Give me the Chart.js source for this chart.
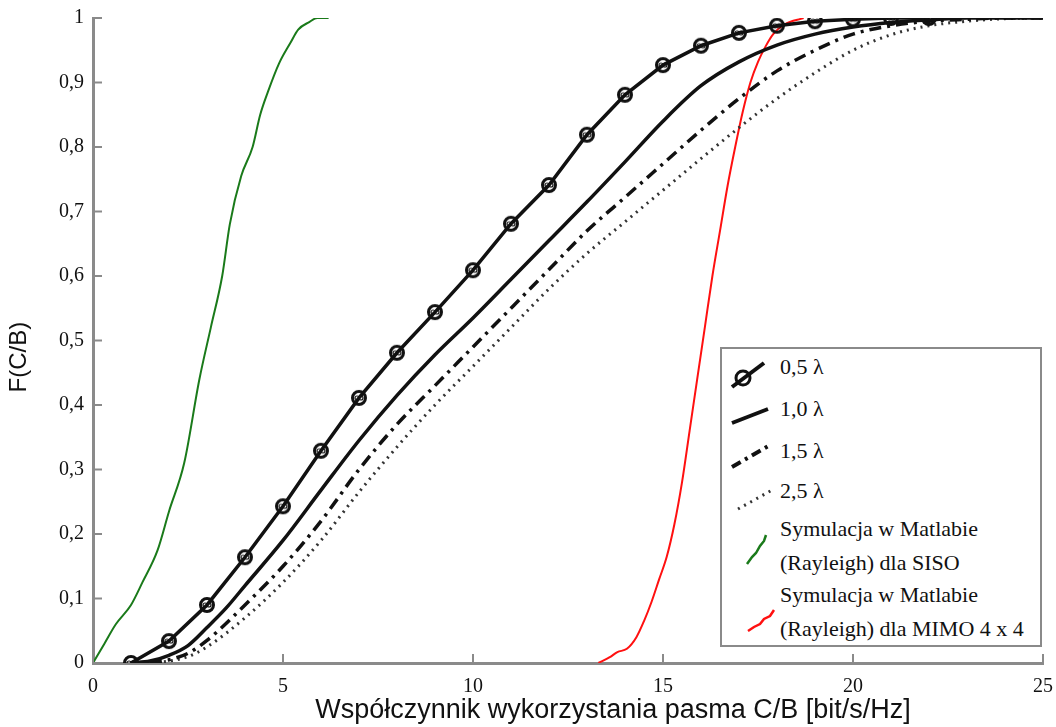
<!DOCTYPE html>
<html>
<head>
<meta charset="utf-8">
<script src="https://cdn.jsdelivr.net/npm/chart.js@4.4.0/dist/chart.umd.min.js"></script>
<style>
  html, body { margin: 0; padding: 0; background: #fff; }
  #wrap { position: relative; width: 1056px; height: 727px; }
  #legend {
    position: absolute; left: 720px; top: 347px; width: 318px; height: 296px;
    border: 2px solid #8a8a8a; background: #fff;
    font-family: "Liberation Serif", "Times New Roman", serif; font-size: 22px; color: #111;
  }
  #legend svg { position: absolute; left: 0; top: 0; }
  #legend .t { position: absolute; left: 58px; white-space: nowrap; line-height: 33px; }
</style>
</head>
<body>
<div id="wrap">
  <canvas id="cdf" width="1056" height="727"></canvas>
  <div id="legend">
    <svg width="318" height="296">
      <line x1="10" y1="38" x2="42" y2="14" stroke="#111" stroke-width="4"/>
      <circle cx="21" cy="29" r="7" fill="none" stroke="#111" stroke-width="3"/>
      <line x1="10" y1="74" x2="46" y2="60" stroke="#111" stroke-width="4"/>
      <line x1="10" y1="118" x2="48" y2="96" stroke="#111" stroke-width="4" stroke-dasharray="10,5,3,5"/>
      <line x1="16" y1="160" x2="52" y2="140" stroke="#333" stroke-width="3" stroke-dasharray="2,5"/>
      <path d="M25 215 L30 208 L34 204 L38 197 L42 192 L44 186" fill="none" stroke="#1a7a1a" stroke-width="2.5"/>
      <path d="M26 282 L32 278 L38 275 L42 270 L48 267 L52 261" fill="none" stroke="#ff1010" stroke-width="2.5"/>
    </svg>
    <div class="t" style="top:1px">0,5 λ</div>
    <div class="t" style="top:43px">1,0 λ</div>
    <div class="t" style="top:85px">1,5 λ</div>
    <div class="t" style="top:125px">2,5 λ</div>
    <div class="t" style="top:163px">Symulacja w Matlabie</div>
    <div class="t" style="top:197px">(Rayleigh) dla SISO</div>
    <div class="t" style="top:229px">Symulacja w Matlabie</div>
    <div class="t" style="top:263px">(Rayleigh) dla MIMO 4 x 4</div>
  </div>
</div>
<script>
// values
const x05 = [1, 2, 3, 4, 5, 6, 7, 8, 9, 10, 11, 12, 13, 14, 15, 16, 17, 18, 19, 20, 21, 22];
const y05 = [0, 0.034, 0.09, 0.164, 0.243, 0.329, 0.411, 0.481, 0.544, 0.609, 0.681, 0.741, 0.819, 0.881, 0.927, 0.957, 0.977, 0.988, 0.995, 0.998, 1, 1];

const x10 = [1, 1.5, 2, 2.5, 3, 3.5, 4, 5, 6, 7, 8, 9, 10, 11, 12, 13, 14, 15, 16, 17, 18, 19, 20, 21, 22, 23, 24, 25];
const y10 = [0, 0.003, 0.012, 0.027, 0.055, 0.085, 0.12, 0.19, 0.268, 0.345, 0.415, 0.478, 0.535, 0.595, 0.655, 0.715, 0.777, 0.84, 0.895, 0.932, 0.958, 0.975, 0.986, 0.993, 0.997, 1, 1, 1];

const x15 = [1.5, 2, 2.5, 3, 4, 5, 6, 7, 8, 9, 10, 11, 12, 13, 14, 15, 16, 17, 18, 19, 20, 21, 22, 23, 24, 25];
const y15 = [0, 0.005, 0.015, 0.035, 0.09, 0.15, 0.22, 0.3, 0.37, 0.43, 0.49, 0.55, 0.61, 0.67, 0.722, 0.774, 0.826, 0.875, 0.918, 0.95, 0.975, 0.988, 0.995, 0.998, 1, 1];

const x25 = [1.5, 2, 2.5, 3, 4, 5, 6, 7, 8, 9, 10, 11, 12, 13, 14, 15, 16, 17, 18, 19, 20, 21, 22, 23, 24, 25];
const y25 = [0, 0.003, 0.01, 0.025, 0.07, 0.125, 0.19, 0.265, 0.335, 0.4, 0.46, 0.52, 0.58, 0.635, 0.684, 0.733, 0.782, 0.83, 0.875, 0.915, 0.95, 0.974, 0.988, 0.995, 0.999, 1];

const xSiso = [0, 0.3, 0.6, 1.0, 1.3, 1.7, 2.0, 2.4, 2.8, 3.1, 3.4, 3.6, 3.9, 4.2, 4.4, 4.6, 4.9, 5.2, 5.4, 5.7, 5.9, 6.2];
const ySiso = [0, 0.03, 0.06, 0.09, 0.125, 0.175, 0.235, 0.31, 0.44, 0.52, 0.6, 0.68, 0.755, 0.8, 0.85, 0.885, 0.93, 0.962, 0.982, 0.994, 1, 1];

const xMimo = [13.3, 13.6, 13.8, 14.05, 14.3, 14.5, 14.7, 14.9, 15.1, 15.3, 15.5, 15.7, 15.9, 16.1, 16.3, 16.5, 16.7, 16.9, 17.1, 17.3, 17.5, 17.7, 17.9, 18.2, 18.7];
const yMimo = [0, 0.009, 0.017, 0.022, 0.04, 0.065, 0.095, 0.13, 0.165, 0.215, 0.28, 0.36, 0.44, 0.52, 0.6, 0.67, 0.74, 0.8, 0.855, 0.9, 0.932, 0.956, 0.975, 0.99, 1];

const xTickStep = 5;
const yTickStep = 0.1;
const xTitle = "Współczynnik wykorzystania pasma C/B [bit/s/Hz]";
const yTitle = "F(C/B)";

function pts(xs, ys) {
    return xs.map((x, i) => ({ x: x, y: ys[i] }));
}

// circle marker with small inner rings, like the matlab marker over the line
const marker = document.createElement("canvas");
marker.width = 18; marker.height = 18;
(function () {
    const c = marker.getContext("2d");
    c.strokeStyle = "#111";
    c.lineWidth = 3;
    c.beginPath(); c.arc(9, 9, 6.5, 0, Math.PI * 2); c.stroke();
    c.lineWidth = 1.2;
    c.beginPath(); c.arc(7, 9, 2, 0, Math.PI * 2); c.stroke();
    c.beginPath(); c.arc(11, 9, 2, 0, Math.PI * 2); c.stroke();
})();

// tick marks pointing into the plot area
const inwardTicks = {
    id: "inwardTicks",
    afterDatasetsDraw(chart) {
        const ctx = chart.ctx;
        const xs = chart.scales.x, ys = chart.scales.y;
        ctx.save();
        ctx.strokeStyle = "#8a8a8a";
        ctx.lineWidth = 2;
        xs.ticks.forEach(t => {
            const px = xs.getPixelForValue(t.value);
            ctx.beginPath(); ctx.moveTo(px, ys.bottom); ctx.lineTo(px, ys.bottom - 9); ctx.stroke();
        });
        ys.ticks.forEach(t => {
            const py = ys.getPixelForValue(t.value);
            ctx.beginPath(); ctx.moveTo(xs.left, py); ctx.lineTo(xs.left + 9, py); ctx.stroke();
        });
        ctx.restore();
    }
};

const lineBase = { fill: false, pointRadius: 0, cubicInterpolationMode: "monotone" };
const pad = n => "\u00a0".repeat(n);

new Chart(document.getElementById("cdf"), {
    type: "line",
    data: {
        datasets: [
            { label: "0,5 λ", data: pts(x05, y05), borderColor: "#111", borderWidth: 3.5,
                fill: false, tension: 0, pointRadius: 7, pointStyle: marker },
            Object.assign({}, lineBase, { label: "1,0 λ", data: pts(x10, y10), borderColor: "#111", borderWidth: 3.5 }),
            Object.assign({}, lineBase, { label: "1,5 λ", data: pts(x15, y15), borderColor: "#111", borderWidth: 3.5,
                borderDash: [12, 6, 3, 6] }),
            Object.assign({}, lineBase, { label: "2,5 λ", data: pts(x25, y25), borderColor: "#333", borderWidth: 3,
                borderDash: [2, 5] }),
            Object.assign({}, lineBase, { label: "Symulacja w Matlabie (Rayleigh) dla SISO", data: pts(xSiso, ySiso),
                borderColor: "#1a7a1a", borderWidth: 2 }),
            Object.assign({}, lineBase, { label: "Symulacja w Matlabie (Rayleigh) dla MIMO 4 x 4", data: pts(xMimo, yMimo),
                borderColor: "#ff1010", borderWidth: 2 })
        ]
    },
    options: {
        responsive: false,
        animation: false,
        layout: { padding: { left: 0, top: 18, right: 13, bottom: 0 } },
        plugins: { legend: { display: false }, tooltip: { enabled: false } },
        scales: {
            x: {
                type: "linear", min: 0, max: 25,
                afterFit: s => { s.height = 64; s.paddingLeft = 0; s.paddingRight = 0; },
                border: { display: true, color: "#8a8a8a", width: 3 },
                grid: { display: false, drawTicks: false },
                ticks: { stepSize: xTickStep, padding: 12, color: "#111",
                    font: { family: "'Liberation Serif', 'Times New Roman', serif", size: 20 } },
                // leading blanks push the title right, as in the original
                title: { display: true, text: pad(12) + xTitle, color: "#111",
                    padding: { top: 0, bottom: 0 },
                    font: { family: "'Liberation Sans', Arial, sans-serif", size: 27 } }
            },
            y: {
                min: 0, max: 1,
                afterFit: s => { s.width = 93; s.paddingTop = 0; s.paddingBottom = 0; },
                border: { display: true, color: "#8a8a8a", width: 3 },
                grid: { display: false, drawTicks: false },
                ticks: { stepSize: yTickStep, padding: 9, color: "#111",
                    callback: v => String(Math.round(v * 10) / 10).replace(".", ","),
                    font: { family: "'Liberation Serif', 'Times New Roman', serif", size: 20 } },
                title: { display: true, text: yTitle + pad(5), color: "#111",
                    padding: { top: 5, bottom: 0 },
                    font: { family: "'Liberation Sans', Arial, sans-serif", size: 24 } }
            }
        }
    },
    plugins: [inwardTicks]
});
</script>
</body>
</html>
